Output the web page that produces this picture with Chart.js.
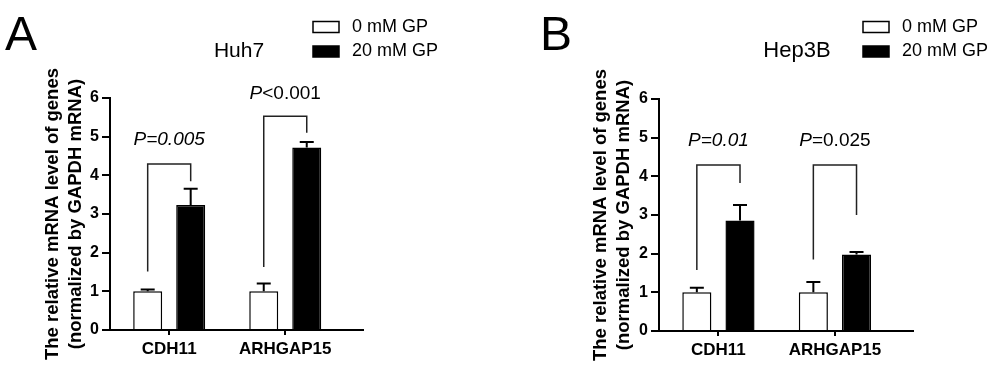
<!DOCTYPE html>
<html>
<head>
<meta charset="utf-8">
<script src="https://cdn.jsdelivr.net/npm/chart.js@4.4.1/dist/chart.umd.min.js"></script>
<style>
  html, body { margin: 0; padding: 0; background: #fff; }
  #wrap { display: flex; width: 1000px; height: 371px; }
  canvas { display: block; }
</style>
</head>
<body>
<div id="wrap">
  <canvas id="panelA" width="500" height="371"></canvas>
  <canvas id="panelB" width="500" height="371"></canvas>
</div>
<script>
const categories = ['CDH11', 'ARHGAP15'];
const seriesNames = ['0 mM GP', '20 mM GP'];
const yTicks = [0, 1, 2, 3, 4, 5, 6];
const yTitle = ['The relative mRNA level of genes', '(normalized by GAPDH mRNA)'];

// Huh7 (panel A)
const huh7Control = [1.0, 1.0];
const huh7ControlErr = [0.05, 0.20];
const huh7Treated = [3.23, 4.72];
const huh7TreatedErr = [0.42, 0.14];
// bracket: left start, top, right end
const huh7Brackets = [[1.51, 4.29, 3.85], [1.63, 5.53, 5.10]];
const huh7PText = ['=0.005', '<0.001'];
const huh7PItalic = [true, false];
const huh7PY = [4.92, 6.1];

// Hep3B (panel B)
const hep3bControl = [1.0, 1.0];
const hep3bControlErr = [0.12, 0.27];
const hep3bTreated = [2.86, 1.98];
const hep3bTreatedErr = [0.40, 0.06];
const hep3bBrackets = [[1.58, 4.29, 3.83], [1.85, 4.29, 3.0]];
const hep3bPText = ['=0.01', '=0.025'];
const hep3bPItalic = [true, false];
const hep3bPY = [4.92, 4.92];

const FONT = 'Arial, "Liberation Sans", Helvetica, sans-serif';

const extras = {
  id: 'extras',
  afterDatasetsDraw(chart) {
    const p = chart.options.plugins.extras;
    const ctx = chart.ctx;
    const y = chart.scales.y;
    ctx.save();
    // error bars (upper only)
    p.errors.forEach((errs, i) => {
      const meta = chart.getDatasetMeta(i);
      const vals = chart.data.datasets[i].data;
      meta.data.forEach((bar, j) => {
        const top = y.getPixelForValue(vals[j].y + errs[j]);
        ctx.strokeStyle = '#000';
        ctx.lineWidth = 2;
        ctx.beginPath();
        ctx.moveTo(bar.x, bar.y);
        ctx.lineTo(bar.x, top);
        ctx.moveTo(bar.x - 7, top);
        ctx.lineTo(bar.x + 7, top);
        ctx.stroke();
      });
    });
    // significance brackets
    const m0 = chart.getDatasetMeta(0), m1 = chart.getDatasetMeta(1);
    p.brackets.forEach((b, j) => {
      const xl = m0.data[j].x, xr = m1.data[j].x;
      ctx.strokeStyle = '#222';
      ctx.lineWidth = 1.5;
      ctx.beginPath();
      ctx.moveTo(xl, y.getPixelForValue(b[0]));
      ctx.lineTo(xl, y.getPixelForValue(b[1]));
      ctx.lineTo(xr, y.getPixelForValue(b[1]));
      ctx.lineTo(xr, y.getPixelForValue(b[2]));
      ctx.stroke();

      const cx = (xl + xr) / 2;
      const cy = y.getPixelForValue(p.pY[j]);
      const fItal = 'italic 19px ' + FONT;
      const fRest = (p.pItalic[j] ? 'italic ' : '') + '19px ' + FONT;
      ctx.font = fItal;
      const w1 = ctx.measureText('P').width;
      ctx.font = fRest;
      const w2 = ctx.measureText(p.pText[j]).width;
      const x0 = cx - (w1 + w2) / 2;
      ctx.fillStyle = '#000';
      ctx.textBaseline = 'middle';
      ctx.textAlign = 'left';
      ctx.font = fItal;
      ctx.fillText('P', x0, cy);
      ctx.font = fRest;
      ctx.fillText(p.pText[j], x0 + w1, cy);
    });
    ctx.restore();
  },
  afterDraw(chart) {
    const p = chart.options.plugins.extras;
    const ctx = chart.ctx;
    ctx.save();
    ctx.fillStyle = '#000';
    ctx.textBaseline = 'alphabetic';
    ctx.textAlign = 'left';
    ctx.font = '48px ' + FONT;
    ctx.fillText(p.letter, p.letterX, 50);

    ctx.textAlign = 'center';
    ctx.textBaseline = 'middle';
    ctx.font = p.titleSize + 'px ' + FONT;
    ctx.fillText(p.title, p.titleX, 51);

    // legend
    chart.data.datasets.forEach((ds, i) => {
      const cy = i === 0 ? 27 : 51.5;
      ctx.fillStyle = ds.backgroundColor;
      ctx.fillRect(p.legendX, cy - 5.5, 26, 11);
      ctx.strokeStyle = '#000';
      ctx.lineWidth = 1.5;
      ctx.strokeRect(p.legendX, cy - 5.5, 26, 11);
      ctx.fillStyle = '#000';
      ctx.textAlign = 'left';
      ctx.font = '18px ' + FONT;
      ctx.fillText(ds.label, p.legendX + 39, cy);
    });
    ctx.restore();
  }
};

function makePanel(id, control, treated, cfg) {
  const toPts = arr => arr.map((v, i) => ({ x: i + 1, y: v }));
  new Chart(document.getElementById(id).getContext('2d'), {
    type: 'bar',
    data: {
      datasets: [
        { label: seriesNames[0], data: toPts(control), backgroundColor: '#ffffff', borderColor: '#000', borderWidth: 1.5 },
        { label: seriesNames[1], data: toPts(treated), backgroundColor: '#000000', borderColor: '#000', borderWidth: 1.5 }
      ]
    },
    options: {
      responsive: false,
      devicePixelRatio: 1,
      animation: false,
      events: [],
      categoryPercentage: 0.741,
      barPercentage: 0.674,
      layout: { padding: { top: cfg.top, left: cfg.left, right: cfg.right, bottom: 0 } },
      plugins: {
        legend: { display: false },
        tooltip: { enabled: false },
        extras: cfg.extras
      },
      scales: {
        x: {
          type: 'linear',
          min: 0.49,
          max: 2.67,
          offset: false,
          afterBuildTicks: s => { s.ticks = categories.map((c, i) => ({ value: i + 1 })); },
          afterFit: s => { s.height = cfg.xHeight; },
          grid: { offset: false, drawOnChartArea: false, drawTicks: true, tickLength: 5, color: '#000', lineWidth: 2 },
          border: { display: true, color: '#000', width: 2 },
          ticks: {
            autoSkip: false, maxRotation: 0, padding: 4, color: '#000',
            font: { family: FONT, size: 17, weight: 'bold' },
            callback: v => categories[v - 1]
          }
        },
        y: {
          min: 0,
          max: 6,
          afterBuildTicks: s => { s.ticks = yTicks.map(v => ({ value: v })); },
          afterFit: s => { s.width = 110; },
          grid: { drawOnChartArea: false, drawTicks: true, tickLength: 8, color: '#000', lineWidth: 2 },
          border: { display: true, color: '#000', width: 2 },
          ticks: { autoSkip: false, padding: 3, color: '#000', font: { family: FONT, size: 16, weight: 'bold' } },
          title: {
            display: true,
            text: yTitle,
            color: '#000',
            font: { family: FONT, size: 18.5, weight: 'bold', lineHeight: 1.25 },
            padding: { top: cfg.titlePad, bottom: 0 }
          }
        }
      }
    },
    plugins: [extras]
  });
}

makePanel('panelA', huh7Control, huh7Treated, {
  top: 98, left: 0, right: 137, xHeight: 41, titlePad: 41,
  extras: {
    errors: [huh7ControlErr, huh7TreatedErr], brackets: huh7Brackets,
    pText: huh7PText, pItalic: huh7PItalic, pY: huh7PY,
    letter: 'A', letterX: 5, title: 'Huh7', titleX: 239, titleSize: 21, legendX: 313
  }
});

makePanel('panelB', hep3bControl, hep3bTreated, {
  top: 99, left: 49, right: 87, xHeight: 40, titlePad: 40,
  extras: {
    errors: [hep3bControlErr, hep3bTreatedErr], brackets: hep3bBrackets,
    pText: hep3bPText, pItalic: hep3bPItalic, pY: hep3bPY,
    letter: 'B', letterX: 40, title: 'Hep3B', titleX: 297, titleSize: 22, legendX: 363
  }
});
</script>
</body>
</html>
